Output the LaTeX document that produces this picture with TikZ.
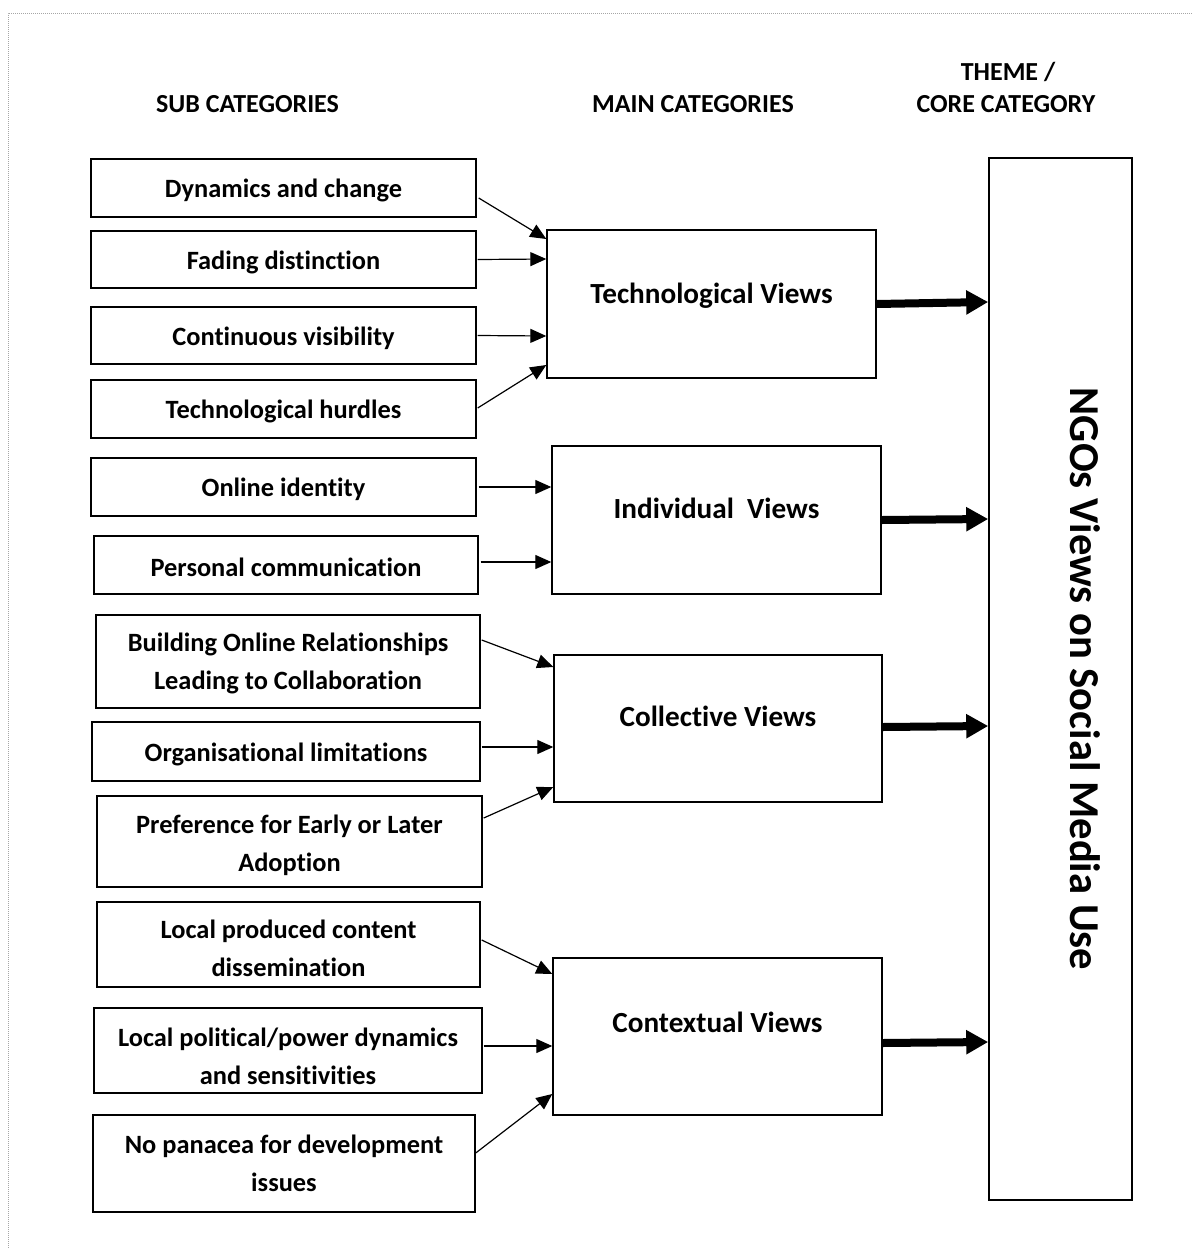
\documentclass[tikz,border=0pt]{standalone}
\usepackage{fontspec}
\setmainfont{Carlito}[Ligatures=NoCommon]
\usetikzlibrary{arrows.meta}

\begin{document}
\begin{tikzpicture}[x=0.5pt,y=-0.5pt,
  subbox/.style={draw, line width=0.7pt, inner sep=0pt, align=center,
    font=\bfseries\fontsize{13.2}{19}\selectfont, text height=12pt},
  subboxtwo/.style={subbox, text height=31pt, text depth=3pt},
  mainbox/.style={draw, line width=0.7pt, inner sep=0pt, align=center,
    font=\bfseries\fontsize{14.6}{18}\selectfont, text height=10pt, text depth=13pt,
    minimum width=164.5pt},
  corebox/.style={draw, line width=0.8pt, inner sep=0pt, rotate=-90,
    font=\bfseries\fontsize{21.3}{25}\selectfont, text height=14pt, text depth=23.5pt},
  heading/.style={font=\bfseries\fontsize{13}{19}\selectfont, anchor=base, inner sep=0pt},
  feed/.style={-{Triangle[length=8pt,width=7pt]}, line width=0.6pt},
  lead/.style={-{Triangle[length=11pt,width=11.5pt]}, line width=4pt},
]
\useasboundingbox (0,0) rectangle (1192,1248);

% page frame
\draw[gray!70, line width=0.5pt, dash pattern=on 0.5pt off 0.5pt] (8,1248) -- (8,13) -- (1192,13);

% column headings
\node[heading] (h1) at (247.5,112) {SUB CATEGORIES};
\node[heading] (h2) at (693,112) {MAIN CATEGORIES};
\node[heading] (h3a) at (1008,80) {THEME /};
\node[heading] (h3b) at (1006,112) {CORE CATEGORY};

% sub categories
\node[subbox, minimum width=192.5pt, minimum height=29pt] (s1) at (283.5,188) {Dynamics and change};
\node[subbox, minimum width=192.5pt, minimum height=28.5pt] (s2) at (283.5,259.5) {Fading distinction};
\node[subbox, minimum width=192.5pt, minimum height=28.5pt] (s3) at (283.5,335.5) {Continuous visibility};
\node[subbox, minimum width=192.5pt, minimum height=29pt] (s4) at (283.5,409) {Technological hurdles};
\node[subbox, minimum width=192.5pt, minimum height=29pt] (s5) at (283.5,487) {Online identity};
\node[subbox, minimum width=192pt, minimum height=29pt] (s6) at (286,565) {Personal communication};
\node[subboxtwo, minimum width=192pt, minimum height=46.5pt] (s7) at (288,661.5) {Building Online Relationships\\Leading to Collaboration};
\node[subbox, minimum width=194pt, minimum height=29.5pt] (s8) at (286,751.5) {Organisational limitations};
\node[subboxtwo, text height=33pt, minimum width=192.5pt, minimum height=45.5pt] (s9) at (289.5,841.5) {Preference for Early or Later\\Adoption};
\node[subboxtwo, text height=35pt, minimum width=191.5pt, minimum height=42.5pt] (s10) at (288.5,944.5) {Local produced content\\dissemination};
\node[subboxtwo, text height=37pt, minimum width=194pt, minimum height=42.5pt] (s11) at (288,1050.5) {Local political/power dynamics\\and sensitivities};
\node[subboxtwo, minimum width=191pt, minimum height=48.5pt] (s12) at (284,1163.5) {No panacea for development\\issues};

% main categories
\node[mainbox, minimum height=74pt, text depth=11pt] (m1) at (711.5,304) {Technological Views};
\node[mainbox, minimum height=74pt, text depth=12pt] (m2) at (716.5,520) {Individual~~Views};
\node[mainbox, minimum width=164pt, minimum height=73.5pt, text depth=12pt] (m3) at (718,728.5) {Collective Views};
\node[mainbox, minimum height=78.5pt, text depth=14pt] (m4) at (717.5,1036.5) {Contextual Views};

% core category
\node[corebox, minimum width=521pt, minimum height=71.5pt] (core) at (1060.5,679) {NGOs Views on Social Media Use};

% sub -> main
\draw[feed] ([xshift=1pt,yshift=-5pt]s1.east) -- ([yshift=32.5pt]m1.west);
\draw[feed] ([xshift=0.5pt]s2.east) -- ([yshift=22.5pt]m1.west);
\draw[feed] ([xshift=0.5pt]s3.east) -- ([yshift=-16pt]m1.west);
\draw[feed] ([xshift=0.5pt,yshift=0.5pt]s4.east) -- ([yshift=-30.5pt]m1.west);
\draw[feed] ([xshift=1pt]s5.east) -- ([yshift=16.5pt]m2.west);
\draw[feed] ([xshift=1pt,yshift=1.5pt]s6.east) -- ([yshift=-21pt]m2.west);
\draw[feed] ([xshift=0.5pt,yshift=10.75pt]s7.east) -- ([yshift=30.75pt]m3.west);
\draw[feed] ([xshift=0.5pt,yshift=2.25pt]s8.east) -- ([yshift=-9.25pt]m3.west);
\draw[feed] ([xshift=0.5pt,yshift=11.75pt]s9.east) -- ([yshift=-29.25pt]m3.west);
\draw[feed] ([xshift=0.5pt,yshift=2.25pt]s10.east) -- ([yshift=31.25pt]m4.west);
\draw[feed] ([xshift=0.5pt,yshift=2.25pt]s11.east) -- ([yshift=-4.75pt]m4.west);
\draw[feed] ([xshift=0pt,yshift=5.25pt]s12.east) -- ([yshift=-28.75pt]m4.west);

% main -> core
\draw[lead] (m1.east) -- ([yshift=188.5pt]core.south);
\draw[lead] (m2.east) -- ([yshift=80pt]core.south);
\draw[lead] ([yshift=0.75pt]m3.east) -- ([yshift=-23.5pt]core.south);
\draw[lead] ([yshift=-3.25pt]m4.east) -- ([yshift=-181.5pt]core.south);
\end{tikzpicture}
\end{document}
